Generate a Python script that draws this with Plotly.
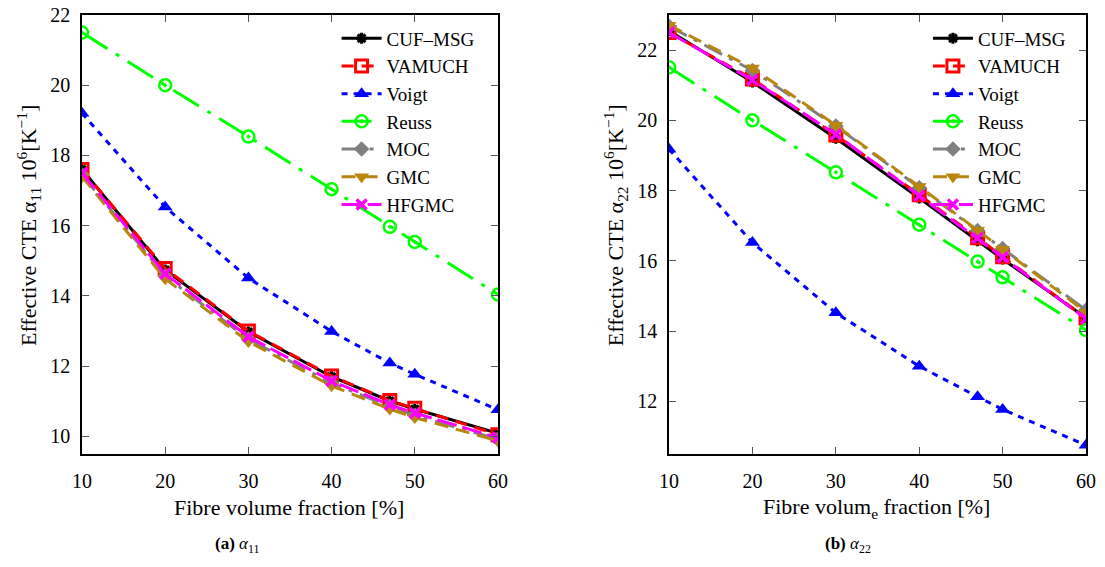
import plotly.graph_objects as go

# ---------------- data ----------------
fraction = [10, 20, 30, 40, 47, 50, 60]

a11_cuf    = [17.60, 14.74, 12.98, 11.70, 11.01, 10.78, 10.09]
a11_vamuch = [17.60, 14.78, 13.00, 11.72, 11.02, 10.80, 10.05]
a11_voigt  = [19.20, 16.53, 14.51, 12.99, 12.09, 11.77, 10.76]
a11_reuss  = [21.50, 20.00, 18.54, 17.04, 15.97, 15.54, 14.04]
a11_moc    = [17.45, 14.56, 12.77, 11.52, 10.85, 10.60, 9.92]
a11_gmc    = [17.40, 14.49, 12.70, 11.44, 10.78, 10.54, 9.87]
a11_hfgmc  = [17.50, 14.63, 12.84, 11.58, 10.90, 10.67, 9.96]

a22_cuf    = [22.55, 21.09, 19.49, 17.79, 16.57, 16.05, 14.38]
a22_vamuch = [22.50, 21.18, 19.58, 17.88, 16.66, 16.12, 14.37]
a22_voigt  = [19.18, 16.52, 14.52, 13.00, 12.13, 11.77, 10.75]
a22_reuss  = [21.51, 20.00, 18.52, 17.03, 15.98, 15.53, 14.03]
a22_moc    = [22.68, 21.42, 19.84, 18.08, 16.86, 16.35, 14.60]
a22_gmc    = [22.71, 21.49, 19.86, 18.12, 16.87, 16.33, 14.54]
a22_hfgmc  = [22.50, 21.15, 19.60, 17.85, 16.65, 16.10, 14.35]

x_ticks = [10, 20, 30, 40, 50, 60]
y11_ticks = [10, 12, 14, 16, 18, 20, 22]
y22_ticks = [12, 14, 16, 18, 20, 22]

names = ["CUF–MSG", "VAMUCH", "Voigt", "Reuss", "MOC", "GMC", "HFGMC"]
series11 = [a11_cuf, a11_vamuch, a11_voigt, a11_reuss, a11_moc, a11_gmc, a11_hfgmc]
series22 = [a22_cuf, a22_vamuch, a22_voigt, a22_reuss, a22_moc, a22_gmc, a22_hfgmc]

# ---------------- styles ----------------
styles = [
    dict(color="#000000", dash="solid", symbol="asterisk-open", msize=9, mlw=3),
    dict(color="#ff0000", dash="12px,8px", symbol="square-open", msize=12, mlw=3),
    dict(color="#0000ff", dash="6px,6px", symbol="triangle-up", msize=13, mlw=0),
    dict(color="#00ff00", dash="30px,10px,4px,10px", symbol="circle-open-dot", msize=12, mlw=2.5),
    dict(color="#808080", dash="20px,8px,4px,8px", symbol="diamond", msize=12, mlw=0),
    dict(color="#b8860b", dash="14px,8px", symbol="triangle-down", msize=13, mlw=0),
    dict(color="#ff00ff", dash="20px,6px", symbol="x-thin-open", msize=10, mlw=3.5),
]

FONT = "Liberation Serif, Times New Roman, serif"

fig = go.Figure()

def add_series(xref, yref, legend, data):
    for name, vals, st in zip(names, data, styles):
        fig.add_trace(go.Scatter(
            x=fraction, y=vals, name=name, mode="lines+markers",
            xaxis=xref, yaxis=yref, legend=legend,
            line=dict(color=st["color"], width=3, dash=st["dash"]),
            marker=dict(symbol=st["symbol"], size=st["msize"], color=st["color"],
                        line=dict(color=st["color"], width=st["mlw"])),
        ))

add_series("x", "y", "legend", series11)
add_series("x2", "y2", "legend2", series22)

axis_common = dict(
    showline=True, linecolor="black", linewidth=1.5, mirror="ticks",
    ticks="inside", ticklen=7, tickwidth=1.2, tickcolor="#555555",
    showgrid=False, zeroline=False, ticklabeloverflow="allow", automargin=False,
    tickfont=dict(family=FONT, size=20, color="black"),
)

# page body has an 8px margin, so the figure is shifted up/left by 8px
fig.update_layout(
    width=1089, height=550,
    margin=dict(l=74, r=11, t=7, b=104, autoexpand=False),
    paper_bgcolor="white", plot_bgcolor="white",
    font=dict(family=FONT, size=20, color="black"),
    xaxis=dict(domain=[0, 0.4143], anchor="y", range=[10, 60], tickvals=x_ticks,
               ticklabelstandoff=8, **axis_common),
    yaxis=dict(domain=[0, 1], anchor="x", range=[9.5, 22], tickvals=y11_ticks,
               ticklabelstandoff=6, **axis_common),
    xaxis2=dict(domain=[0.5847, 1], anchor="y2", range=[10, 60], tickvals=x_ticks,
                ticklabelstandoff=8, **axis_common),
    yaxis2=dict(domain=[0, 1], anchor="x2", range=[10.5, 23], tickvals=y22_ticks,
                ticklabelstandoff=6, **axis_common),
    legend=dict(x=0.396, y=0.99, xanchor="right", yanchor="top",
                bgcolor="rgba(255,255,255,0)", font=dict(family=FONT, size=19),
                tracegroupgap=0, itemwidth=40),
    legend2=dict(x=0.985, y=0.99, xanchor="right", yanchor="top",
                 bgcolor="rgba(255,255,255,0)", font=dict(family=FONT, size=19),
                 tracegroupgap=0, itemwidth=40),
    showlegend=True,
)

ann = [
    dict(text="Effective CTE α<sub>11</sub> 10<sup>6</sup>[K<sup>−1</sup>]",
         x=-0.0538, y=0.5216, textangle=-90, font=dict(size=22)),
    dict(text="Effective CTE α<sub>22</sub> 10<sup>6</sup>[K<sup>−1</sup>]",
         x=0.531, y=0.5216, textangle=-90, font=dict(size=22)),
    dict(text="Fibre volume fraction [%]", x=0.206, y=-0.123, font=dict(size=22)),
    dict(text="Fibre volum<sub>e</sub> fraction [%]", x=0.791, y=-0.123, font=dict(size=22)),
    dict(text="<b>(a)</b> <i>α</i><sub>11</sub>", x=0.1544, y=-0.2073, font=dict(size=17)),
    dict(text="<b>(b)</b> <i>α</i><sub>22</sub>", x=0.763, y=-0.2073, font=dict(size=17)),
]
for a in ann:
    f = a.pop("font")
    fig.add_annotation(xref="paper", yref="paper", showarrow=False,
                       xanchor="center", yanchor="middle",
                       font=dict(family=FONT, color="black", **f), **a)

fig.write_html("out.html")
